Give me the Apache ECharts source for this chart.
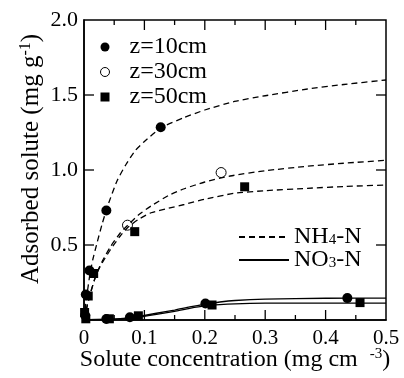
<!DOCTYPE html>
<html>
<head>
<meta charset="utf-8">
<script src="https://cdn.jsdelivr.net/npm/echarts@6/dist/echarts.min.js"></script>
<style>
html,body{margin:0;padding:0;background:#fff;}
#main{width:404px;height:378px;}
</style>
</head>
<body>
<div id="main"></div>
<script>
// measured points [concentration, adsorbed]
var z10_pts = [[0.003,0.17],[0.009,0.33],[0.037,0.73],[0.127,1.285],
	[0.002,0.03],[0.037,0.007],[0.076,0.018],[0.201,0.11],[0.436,0.146]];
var z30_pts = [[0.072,0.632],[0.227,0.983]];
var z50_pts = [[0.007,0.16],[0.016,0.31],[0.084,0.589],[0.266,0.888],
	[0.001,0.05],[0.003,0.008],[0.042,0.008],[0.09,0.028],[0.212,0.1],[0.457,0.116]];

// fitted curves
var nh4_z10 = [[0,0],[0.003,0.11],[0.006,0.2],[0.01,0.31],[0.015,0.41],[0.022,0.52],[0.03,0.64],
	[0.04,0.77],[0.055,0.93],[0.07,1.04],[0.085,1.13],[0.1,1.19],[0.127,1.28],[0.166,1.35],[0.2,1.4],
	[0.249,1.457],[0.3,1.495],[0.37,1.54],[0.43,1.57],[0.5,1.6]];
var nh4_z30 = [[0,0],[0.005,0.09],[0.01,0.17],[0.02,0.3],[0.03,0.39],[0.044,0.49],[0.06,0.58],
	[0.072,0.63],[0.09,0.7],[0.111,0.76],[0.14,0.83],[0.166,0.875],[0.2,0.92],[0.242,0.96],
	[0.3,0.995],[0.37,1.025],[0.43,1.045],[0.5,1.065]];
var nh4_z50 = [[0,0],[0.005,0.09],[0.01,0.17],[0.02,0.3],[0.03,0.38],[0.044,0.47],[0.06,0.56],
	[0.072,0.615],[0.09,0.67],[0.111,0.715],[0.14,0.745],[0.166,0.77],[0.2,0.805],[0.249,0.845],
	[0.3,0.862],[0.37,0.878],[0.43,0.89],[0.5,0.9]];
var no3_a = [[0,0.003],[0.05,0.006],[0.08,0.015],[0.093,0.025],[0.12,0.045],[0.15,0.066],[0.175,0.087],
	[0.2,0.105],[0.225,0.12],[0.25,0.13],[0.3,0.139],[0.4,0.145],[0.5,0.146]];
var no3_b = [[0,0.003],[0.05,0.005],[0.08,0.012],[0.093,0.02],[0.12,0.038],[0.15,0.058],[0.175,0.078],
	[0.2,0.094],[0.225,0.103],[0.25,0.108],[0.3,0.112],[0.4,0.113],[0.5,0.113]];

// tick positions
var xMajorTicks = [0.1, 0.2, 0.3, 0.4];
var xMinorTicks = [0.05, 0.15, 0.25, 0.35, 0.45];
var yMajorTicks = [0.5, 1.0, 1.5];

var FONT = 'Liberation Serif';
var ec_main = echarts.init(document.getElementById('main'));

function curve(name, data, dashed) {
	return {
		name: name,
		type: 'line',
		data: data,
		symbol: 'none',
		smooth: 0.2,
		itemStyle: {color: '#000'},
		lineStyle: {color: '#000', width: 1.3, type: dashed ? [6, 4] : 'solid'}
	};
}
function pts(name, data, sym, open) {
	return {
		name: name,
		type: 'scatter',
		data: data,
		symbol: sym,
		symbolSize: sym == 'rect' ? 9 : 10,
		itemStyle: open ? {color: '#fff', borderColor: '#000', borderWidth: 1, opacity: 1}
			: {color: '#000', opacity: 1}
	};
}

// inward ticks on all four sides, placed through the axes
var tickRows = [];
xMajorTicks.forEach(function (v) { tickRows.push([v, 0, 10]); });
xMinorTicks.forEach(function (v) { tickRows.push([v, 0, 5]); });
yMajorTicks.forEach(function (v) { tickRows.push([v, 1, 10]); });

function renderTick(params, api) {
	var v = api.value(0), isY = api.value(1) === 1, len = api.value(2);
	var st = {stroke: '#000', lineWidth: 1.3};
	if (!isY) {
		var b = api.coord([v, 0]), t = api.coord([v, 2]);
		return {type: 'group', children: [
			{type: 'line', shape: {x1: b[0], y1: b[1], x2: b[0], y2: b[1] - len}, style: st},
			{type: 'line', shape: {x1: t[0], y1: t[1], x2: t[0], y2: t[1] + len}, style: st}
		]};
	}
	var l = api.coord([0, v]), r = api.coord([0.5, v]);
	return {type: 'group', children: [
		{type: 'line', shape: {x1: l[0], y1: l[1], x2: l[0] + len, y2: l[1]}, style: st},
		{type: 'line', shape: {x1: r[0], y1: r[1], x2: r[0] - len, y2: r[1]}, style: st}
	]};
}

ec_main.setOption({
	animation: false,
	backgroundColor: '#fff',
	textStyle: {fontFamily: FONT, color: '#000'},
	grid: {left: 84, right: 18, top: 20, bottom: 57, show: true,
		borderColor: '#000', borderWidth: 1.5, backgroundColor: 'transparent'},
	xAxis: {
		type: 'value', min: 0, max: 0.5, interval: 0.1,
		axisLine: {show: true, onZero: false, lineStyle: {color: '#000', width: 1.5}},
		axisTick: {show: false},
		splitLine: {show: false},
		name: 'Solute concentration (mg cm  {sup|-3})',
		nameLocation: 'middle', nameGap: 27, nameMoveOverlap: false,
		nameTextStyle: {fontFamily: FONT, fontSize: 24, color: '#000', lineHeight: 26,
			rich: {sup: {fontFamily: FONT, fontSize: 15, lineHeight: 14, verticalAlign: 'top', color: '#000'}}},
		axisLabel: {fontFamily: FONT, fontSize: 21, color: '#000', margin: 8,
			formatter: function (v) { return v === 0 ? '0' : v.toFixed(1); }}
	},
	yAxis: {
		type: 'value', min: 0, max: 2, interval: 0.5,
		axisLine: {show: true, onZero: false, lineStyle: {color: '#000', width: 1.5}},
		axisTick: {show: false},
		splitLine: {show: false},
		name: 'Adsorbed solute (mg g{sup|-1})',
		nameLocation: 'middle', nameGap: 40, nameMoveOverlap: false,
		nameTextStyle: {fontFamily: FONT, fontSize: 25, color: '#000', lineHeight: 26,
			padding: [0, 0, 0, 22],
			rich: {sup: {fontFamily: FONT, fontSize: 16, lineHeight: 14, verticalAlign: 'top', color: '#000'}}},
		axisLabel: {fontFamily: FONT, fontSize: 22, color: '#000', margin: 6, showMinLabel: false,
			formatter: function (v) { return v.toFixed(1); }}
	},
	legend: [
		{
			data: ['z=10cm', 'z=30cm', 'z=50cm'],
			orient: 'vertical',
			left: 95, top: 30,
			itemWidth: 9, itemHeight: 9, itemGap: 1,
			itemStyle: {borderWidth: 1},
			textStyle: {fontFamily: FONT, fontSize: 24, color: '#000', padding: [0, 0, 0, 15]}
		},
		{
			data: ['NH4-N', 'NO3-N'],
			orient: 'vertical',
			left: 233, top: 220,
			itemWidth: 50, itemHeight: 10, itemGap: -1,
			itemStyle: {color: 'rgba(0,0,0,0)', borderWidth: 0},
			formatter: function (n) { return n.replace(/(\d)/, '{sub|$1}'); },
			textStyle: {fontFamily: FONT, fontSize: 24, color: '#000', lineHeight: 22,
				rich: {sub: {fontFamily: FONT, fontSize: 15, lineHeight: 12, verticalAlign: 'bottom', color: '#000'}}}
		}
	],
	series: [
		{type: 'custom', data: tickRows, renderItem: renderTick, silent: true, encode: {x: 0}},
		curve('NH4-N', nh4_z10, true),
		curve('NH4-N', nh4_z30, true),
		curve('NH4-N', nh4_z50, true),
		curve('NO3-N', no3_a, false),
		curve('NO3-N', no3_b, false),
		pts('z=10cm', z10_pts, 'circle', false),
		pts('z=30cm', z30_pts, 'circle', true),
		pts('z=50cm', z50_pts, 'rect', false)
	]
});
</script>
</body>
</html>
